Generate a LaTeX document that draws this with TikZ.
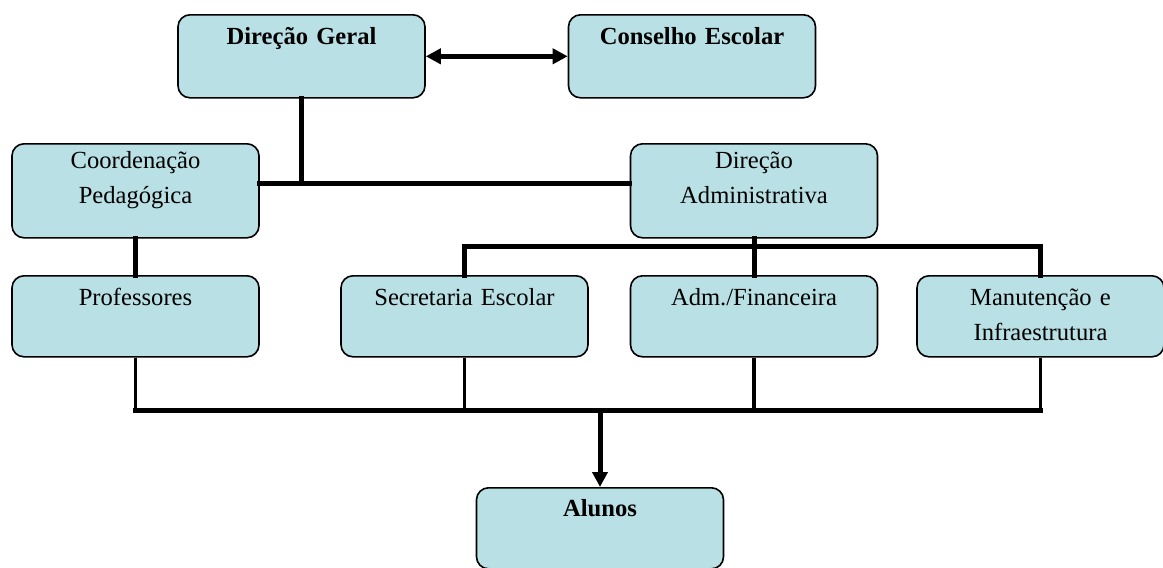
\documentclass[tikz,border=0pt]{standalone}
\usepackage{fontspec}
\setmainfont{Liberation Serif}
\usepackage{xcolor}
\usepackage{tikz}
\usetikzlibrary{arrows.meta, positioning, calc}

\definecolor{boxfill}{RGB}{185,224,228}

\begin{document}
\begin{tikzpicture}[x=0.5pt, y=-0.5pt, every node/.style={font=\fontsize{12.3}{17.5}\selectfont}]

		\tikzstyle{unit}=[draw=black, line width=0.8pt, fill=boxfill, rounded corners=6pt, anchor=north, text width=115.5pt, align=center, inner xsep=4pt, inner ysep=0pt]
		\tikzstyle{tall}=[text height=15pt, text depth=26.5pt]
		\tikzstyle{bar}=[line width=2.5pt, line cap=rect]
		\tikzstyle{drop}=[line width=1.8pt]
		%%	\tikzstyle{tip}=[-{Triangle[length=7pt, width=7pt]}]

		\useasboundingbox (0,0) rectangle (1163,568);

		\node (dirgeral) at (301.5,14) [unit, tall] {\textbf{Direção Geral}};
		\node (conselho) at (692,14) [unit, tall] {\textbf{Conselho Escolar}};

		\node (coord) at (135.5,143) [unit, text height=12.5pt, text depth=34.5pt] {Coordenação\\Pedagógica};
		\node (diradm) at (754,143) [unit, text height=12.5pt, text depth=34.5pt] {Direção\\Administrativa};

		\node (prof) at (135.5,275) [unit, text height=15pt, text depth=25.5pt] {Professores};
		\node (secr) at (464.5,275) [unit, text height=15pt, text depth=25.5pt] {Secretaria Escolar};
		\node (admfin) at (754,275) [unit, text height=15pt, text depth=25.5pt] {Adm./Financeira};
		\node (manut) at (1040.5,275) [unit, text height=15pt, text depth=25.5pt] {Manutenção e\\Infraestrutura};

		\node (alunos) at (600,487) [unit, text height=14.5pt, text depth=26pt] {\textbf{Alunos}};

		\coordinate (j1) at (301.5,183);
		\coordinate (j2) at (754,246);
		\coordinate (j3) at (600,410);


		\draw [line width=2.5pt, {Triangle[length=7.5pt, width=7.5pt]}-{Triangle[length=7.5pt, width=7.5pt]}] (dirgeral.east) -- (conselho.west);

		\draw [bar] (dirgeral.south) -- (j1);
		\draw [bar] (coord.east |- j1) -- (diradm.west |- j1);

		\draw [bar] (coord.south) -- (prof.north);

		\draw [bar] (diradm.south) -- (j2);
		\draw [bar] (secr.north |- j2) -- (manut.north |- j2);
		\draw [bar] (secr.north |- j2) -- (secr.north);
		\draw [bar] (j2) -- (admfin.north);
		\draw [bar] (manut.north |- j2) -- (manut.north);

		\foreach \n in {prof, secr, admfin, manut}
			\draw [drop] (\n.south) -- (\n.south |- j3);
		\draw [bar] (prof.south |- j3) -- (manut.south |- j3);

		\draw [bar, line cap=butt, -{Triangle[length=7.5pt, width=7.5pt]}] (j3) -- (alunos.north);

\end{tikzpicture}
\end{document}
